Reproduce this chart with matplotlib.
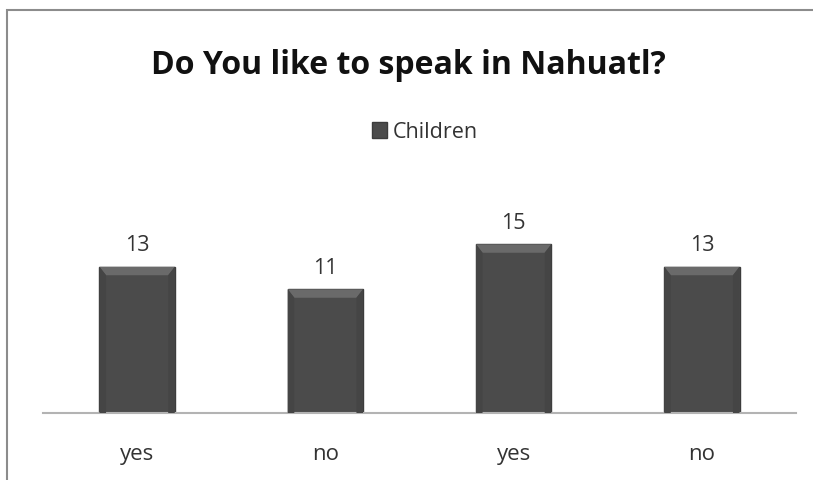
import matplotlib.pyplot as plt
from matplotlib.patches import Rectangle, Polygon

categories = ["yes", "no", "yes", "no"]
children = [13, 11, 15, 13]

plt.rcParams['font.family'] = ['Open Sans', 'DejaVu Sans']

fig = plt.figure(figsize=(8.13, 4.8), dpi=100)
W, H = 813, 480

# outer chart frame (runs off the right and bottom edges)
fig.add_artist(Rectangle((7 / W, -0.1), 1.2, (480 - 10) / H + 0.1,
                         transform=fig.transFigure, fill=False,
                         edgecolor='#8c8c8c', linewidth=1.5))

ax = fig.add_axes([43 / W, (H - 413) / H, (796 - 43) / W, (413 - 160) / H])
x = list(range(len(categories)))
bars = ax.bar(x, children, width=0.4, color='#4b4b4b', edgecolor='#3c3c3c',
              linewidth=1.0, label='Children', zorder=2)

# soft bevel along the top and sides of each bar
for b in bars:
    x0, w, h = b.get_x(), b.get_width(), b.get_height()
    inset, depth = 0.035, 0.75
    ax.add_patch(Polygon([(x0, h), (x0 + w, h), (x0 + w - inset, h - depth),
                          (x0 + inset, h - depth)], closed=True,
                         facecolor='#6a6a6a', edgecolor='none', zorder=3))
    ax.add_patch(Polygon([(x0, h), (x0 + inset, h - depth), (x0 + inset, 0),
                          (x0, 0)], closed=True,
                         facecolor='#454545', edgecolor='none', zorder=3))
    ax.add_patch(Polygon([(x0 + w, h), (x0 + w - inset, h - depth),
                          (x0 + w - inset, 0), (x0 + w, 0)], closed=True,
                         facecolor='#454545', edgecolor='none', zorder=3))

for xi, v in zip(x, children):
    ax.text(xi, v + 0.95, str(v), ha='center', va='bottom', fontsize=15.5,
            color='#333333')

ax.set_xlim(-0.5, 3.5)
ax.set_ylim(0, 22.5)
ax.set_xticks(x)
ax.set_xticklabels(categories, fontsize=16, color='#333333')
ax.tick_params(axis='x', length=0, pad=22)
ax.set_yticks([])
for s in ['top', 'right', 'left']:
    ax.spines[s].set_visible(False)
ax.spines['bottom'].set_color('#b3b3b3')
ax.spines['bottom'].set_linewidth(1.5)

fig.text(408 / W, 1 - 65 / H, "Do You like to speak in Nahuatl?",
         ha='center', va='center', fontsize=23, fontweight='bold', color='#111111')

leg = fig.legend(handles=[bars], labels=['Children'], loc='center',
                 bbox_to_anchor=(425 / W, 1 - 132 / H), frameon=False,
                 fontsize=15.5, handlelength=0.7, handleheight=0.7,
                 handletextpad=0.25, labelcolor='#333333')

fig.savefig('out.png', dpi=100, facecolor='white')
